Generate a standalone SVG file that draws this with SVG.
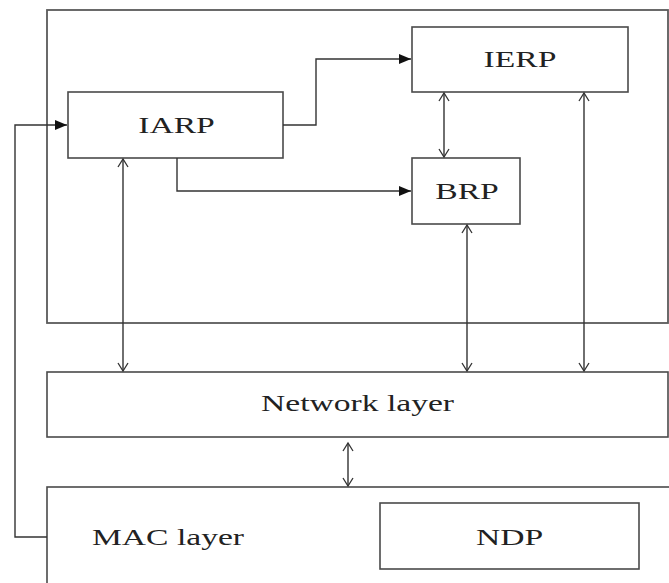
<svg xmlns="http://www.w3.org/2000/svg" width="669" height="583" viewBox="0 0 669 583">
  <style>
    .box { fill: #ffffff; stroke: #4a4a4a; stroke-width: 1.6; }
    .frame { fill: none; stroke: #5a5a5a; stroke-width: 1.8; }
    .lbl { font-family: "Liberation Serif", "Times New Roman", serif; font-size: 24px; fill: #222222; text-anchor: middle; }
    .con { fill: none; stroke: #333333; stroke-width: 1.4; }
  </style>
  <defs>
    <marker id="solid" markerUnits="userSpaceOnUse" markerWidth="14" markerHeight="12" refX="12" refY="6" orient="auto">
      <path d="M0,1 L12,6 L0,11 Z" fill="#111111"/>
    </marker>
    <marker id="open" markerUnits="userSpaceOnUse" markerWidth="14" markerHeight="14" refX="9" refY="7" orient="auto-start-reverse">
      <path d="M1,2 L9,7 L1,12" fill="none" stroke="#333333" stroke-width="1.3"/>
    </marker>
  </defs>
  <rect width="669" height="583" fill="#ffffff"/>

  <g id="upper-frame">
    <rect class="frame" x="47" y="10" width="621" height="313"/>
  </g>
  <g id="network-layer">
    <rect class="box" x="47" y="372" width="621" height="65"/>
    <text class="lbl" transform="translate(357.5,411) scale(1.4,1)">Network layer</text>
  </g>
  <g id="mac-layer">
    <rect class="box" x="47" y="487" width="640" height="120"/>
    <text class="lbl" transform="translate(92,545) scale(1.4,1)" style="text-anchor:start">MAC layer</text>
  </g>
  <g id="ndp">
    <rect class="box" x="380" y="503" width="259" height="66"/>
    <text class="lbl" transform="translate(509.5,545) scale(1.4,1)">NDP</text>
  </g>
  <g id="iarp">
    <rect class="box" x="68" y="92" width="215" height="66"/>
    <text class="lbl" transform="translate(176.5,133) scale(1.4,1)">IARP</text>
  </g>
  <g id="ierp">
    <rect class="box" x="412" y="27" width="216" height="65"/>
    <text class="lbl" transform="translate(520,67) scale(1.4,1)">IERP</text>
  </g>
  <g id="brp">
    <rect class="box" x="412" y="158" width="108" height="66"/>
    <text class="lbl" transform="translate(467,199) scale(1.4,1)">BRP</text>
  </g>

  <g id="connectors">
    <path class="con" d="M47,537 H15 V125 H67" marker-end="url(#solid)"/>
    <path class="con" d="M283,125 H316 V59 H411" marker-end="url(#solid)"/>
    <path class="con" d="M177,158 V191 H411" marker-end="url(#solid)"/>
    <path class="con" d="M444,93 V157" marker-start="url(#open)" marker-end="url(#open)"/>
    <path class="con" d="M123,159 V371" marker-start="url(#open)" marker-end="url(#open)"/>
    <path class="con" d="M467,225 V371" marker-start="url(#open)" marker-end="url(#open)"/>
    <path class="con" d="M584,93 V371" marker-start="url(#open)" marker-end="url(#open)"/>
    <path class="con" d="M348,443 V486" marker-start="url(#open)" marker-end="url(#open)"/>
  </g>
</svg>
